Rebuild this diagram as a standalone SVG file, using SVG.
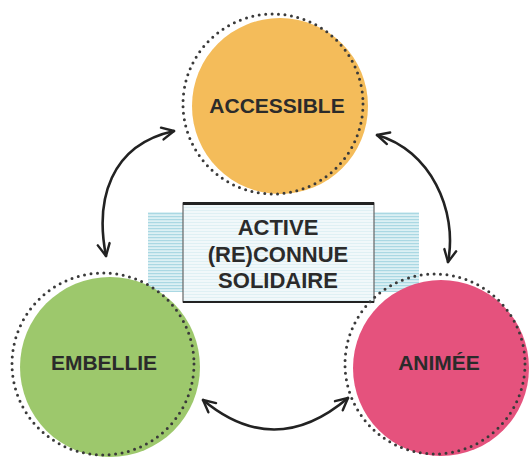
<svg xmlns="http://www.w3.org/2000/svg" width="529" height="457" viewBox="0 0 529 457">
<style>
.lbl{font-family:"Liberation Sans",Arial,sans-serif;font-weight:700;fill:#2b2b2b;text-anchor:middle}
.dots{fill:none;stroke:#3a3a3a;stroke-width:3;stroke-linecap:round;stroke-dasharray:0 6.5}
.arr{fill:none;stroke:#222;stroke-width:2.6;stroke-linecap:round;marker-start:url(#ah);marker-end:url(#ah)}
</style>
<defs>
<pattern id="hatch" width="4" height="3" patternUnits="userSpaceOnUse">
<rect width="4" height="3" fill="#dcf0f4"/>
<rect width="4" height="1.2" fill="#aad8e3"/>
</pattern>
<pattern id="hatch2" width="4" height="3" patternUnits="userSpaceOnUse">
<rect width="4" height="3" fill="#f1f8fa"/>
<rect width="4" height="1" fill="#dff0f4"/>
</pattern>
<marker id="ah" viewBox="-14 -8 16 16" markerWidth="16" markerHeight="16" refX="0" refY="0" orient="auto-start-reverse" markerUnits="userSpaceOnUse">
<path d="M -12 -6 L 0 0 L -12 6" fill="none" stroke="#222" stroke-width="2.4" stroke-linecap="round" stroke-linejoin="round"/>
</marker>
</defs>
<g id="band">
<rect x="148" y="212" width="271" height="80" fill="url(#hatch)"/>
</g>
<g id="center-box">
<rect x="183" y="203" width="191" height="99" fill="url(#hatch2)" stroke="#666" stroke-width="1.2"/>
<line x1="183" y1="203.5" x2="374" y2="203.5" stroke="#222" stroke-width="3"/>
<line x1="183" y1="302" x2="374" y2="302" stroke="#222" stroke-width="2"/>
<text class="lbl" x="278" y="235" font-size="22">ACTIVE</text>
<text class="lbl" x="278" y="262" font-size="22">(RE)CONNUE</text>
<text class="lbl" x="278" y="288" font-size="22">SOLIDAIRE</text>
</g>
<g id="accessible">
<circle cx="280" cy="106" r="88" fill="#f4bc5a"/>
<circle class="dots" cx="273" cy="104" r="90"/>
<text class="lbl" x="277" y="113" font-size="21">ACCESSIBLE</text>
</g>
<g id="embellie">
<circle cx="110" cy="367" r="90" fill="#9dc86c"/>
<circle class="dots" cx="103" cy="364" r="91"/>
<text class="lbl" x="104" y="370" font-size="21">EMBELLIE</text>
</g>
<g id="animee">
<circle cx="441" cy="368" r="88" fill="#e5527d"/>
<circle class="dots" cx="435" cy="364" r="90"/>
<text class="lbl" x="439" y="370" font-size="21">ANIMÉE</text>
</g>
<g id="connectors">
<path class="arr" d="M 106 256 C 95 200 110 145 174 131"/>
<path class="arr" d="M 377 135 C 430 150 458 210 448 262"/>
<path class="arr" d="M 203 400 Q 275 460 348 398"/>
</g>
</svg>
